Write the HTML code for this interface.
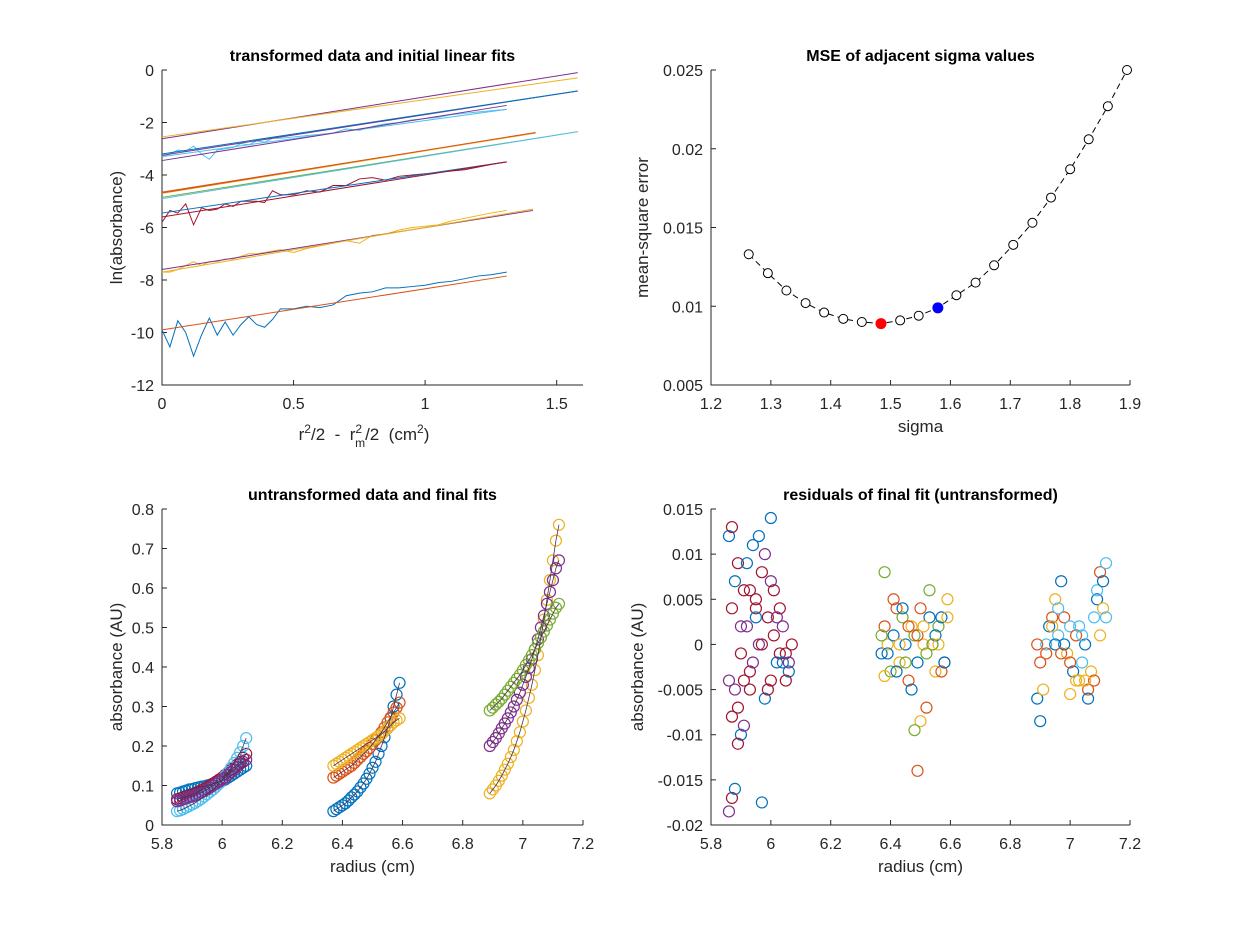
<!DOCTYPE html>
<html><head><meta charset="utf-8"><style>
body{margin:0;background:#fff;}
svg{display:block;font-family:"Liberation Sans",Arial,sans-serif;}
</style></head><body>
<svg id="fig" width="1249" height="926" viewBox="0 0 1249 926" xmlns="http://www.w3.org/2000/svg"></svg>
<script>
const C={b:'#0072BD',o:'#D95319',y:'#EDB120',p:'#7E2F8E',g:'#77AC30',c:'#4DBEEE',r:'#A2142F'};
// ---- panel 1 data: linear fits
const fitColors=['p','y','p','b','c','p','o','g','y','o','c','b','r','p','y','o'];
const fitX1=[1.58,1.58,1.58,1.58,1.31,1.31,1.42,1.58,1.42,1.42,1.58,1.31,1.31,1.41,1.41,1.31];
const fitY0=[-2.62,-2.55,-3.25,-3.2,-3.3,-3.45,-4.65,-4.85,-4.7,-4.68,-4.9,-5.45,-5.6,-7.6,-7.7,-9.9];
const fitY1=[-0.1,-0.3,-0.8,-0.8,-1.5,-1.35,-2.4,-2.35,-2.4,-2.38,-2.35,-3.5,-3.5,-5.35,-5.3,-7.85];
// noisy data traces
const nzX=[0,0.03,0.06,0.09,0.12,0.15,0.18,0.21,0.24,0.27,0.3,0.33,0.36,0.39,0.42,0.45,0.5,0.55,0.6,0.65,0.7,0.75,0.8,0.85,0.9,0.95,1.0,1.05,1.1,1.15,1.2,1.25,1.31];
const nzBlue=[-9.9,-10.55,-9.55,-10.0,-10.9,-10.1,-9.45,-10.1,-9.6,-10.1,-9.7,-9.4,-9.7,-9.8,-9.5,-9.1,-9.1,-9.0,-9.05,-8.95,-8.6,-8.5,-8.45,-8.3,-8.3,-8.25,-8.2,-8.1,-8.05,-7.95,-7.85,-7.8,-7.7];
const nzRed=[-5.8,-5.35,-5.45,-5.1,-5.9,-5.25,-5.35,-5.3,-5.1,-5.2,-5.0,-5.0,-5.0,-5.05,-4.6,-4.75,-4.75,-4.6,-4.65,-4.4,-4.4,-4.15,-4.1,-4.2,-4.05,-4.0,-3.95,-3.9,-3.85,-3.8,-3.7,-3.6,-3.5];
const nzYel=[-7.7,-7.7,-7.6,-7.45,-7.3,-7.45,-7.3,-7.3,-7.2,-7.2,-7.1,-7.0,-7.0,-6.95,-6.9,-6.85,-6.95,-6.8,-6.7,-6.6,-6.5,-6.6,-6.3,-6.25,-6.1,-6.0,-5.95,-5.9,-5.75,-5.65,-5.55,-5.45,-5.35];
const nzCyan=[-3.3,-3.2,-3.05,-3.1,-2.9,-3.2,-3.4,-3.05,-3.0,-2.95,-2.8,-2.85,-2.7,-2.75,-2.6,-2.6,-2.55,-2.5,-2.45,-2.4,-2.25,-2.3,-2.15,-2.05,-2.0,-1.9,-1.85,-1.8,-1.7,-1.65,-1.6,-1.55,-1.5];
// ---- panel 2 data
const sigma=[1.263,1.295,1.326,1.358,1.389,1.421,1.452,1.484,1.516,1.547,1.579,1.610,1.642,1.673,1.705,1.737,1.768,1.800,1.831,1.863,1.895];
const mse=[0.0133,0.0121,0.0110,0.0102,0.0096,0.0092,0.0090,0.0089,0.0091,0.0094,0.0099,0.0107,0.0115,0.0126,0.0139,0.0153,0.0169,0.0187,0.0206,0.0227,0.0250];
const minIdx=7, selIdx=10;
// ---- panel 3 data
const s3col=['b','r','c','p','b','o','y','y','p','g'];
const s3x=[
[5.85,5.86,5.87,5.88,5.89,5.9,5.91,5.92,5.93,5.94,5.95,5.96,5.97,5.98,5.99,6.0,6.01,6.02,6.03,6.04,6.05,6.06,6.07,6.08],
[5.85,5.86,5.87,5.88,5.89,5.9,5.91,5.92,5.93,5.94,5.95,5.96,5.97,5.98,5.99,6.0,6.01,6.02,6.03,6.04,6.05,6.06,6.07,6.08],
[5.85,5.86,5.87,5.88,5.89,5.9,5.91,5.92,5.93,5.94,5.95,5.96,5.97,5.98,5.99,6.0,6.01,6.02,6.03,6.04,6.05,6.06,6.07,6.08],
[5.85,5.86,5.87,5.88,5.89,5.9,5.91,5.92,5.93,5.94,5.95,5.96,5.97,5.98,5.99,6.0,6.01,6.02,6.03,6.04,6.05,6.06,6.07,6.08],
[6.37,6.38,6.39,6.4,6.41,6.42,6.43,6.44,6.45,6.46,6.47,6.48,6.49,6.5,6.51,6.52,6.53,6.54,6.55,6.56,6.57,6.58,6.59],
[6.37,6.38,6.39,6.4,6.41,6.42,6.43,6.44,6.45,6.46,6.47,6.48,6.49,6.5,6.51,6.52,6.53,6.54,6.55,6.56,6.57,6.58,6.59],
[6.37,6.38,6.39,6.4,6.41,6.42,6.43,6.44,6.45,6.46,6.47,6.48,6.49,6.5,6.51,6.52,6.53,6.54,6.55,6.56,6.57,6.58,6.59],
[6.89,6.9,6.91,6.92,6.93,6.94,6.95,6.96,6.97,6.98,6.99,7.0,7.01,7.02,7.03,7.04,7.05,7.06,7.07,7.08,7.09,7.1,7.11,7.12],
[6.89,6.9,6.91,6.92,6.93,6.94,6.95,6.96,6.97,6.98,6.99,7.0,7.01,7.02,7.03,7.04,7.05,7.06,7.07,7.08,7.09,7.1,7.11,7.12],
[6.89,6.9,6.91,6.92,6.93,6.94,6.95,6.96,6.97,6.98,6.99,7.0,7.01,7.02,7.03,7.04,7.05,7.06,7.07,7.08,7.09,7.1,7.11,7.12]];
const s3y=[
[0.08,0.082,0.085,0.087,0.09,0.091,0.093,0.095,0.097,0.098,0.1,0.102,0.105,0.107,0.11,0.112,0.115,0.12,0.125,0.13,0.135,0.14,0.145,0.15],
[0.065,0.067,0.07,0.072,0.075,0.077,0.08,0.084,0.088,0.091,0.095,0.1,0.105,0.11,0.115,0.12,0.127,0.133,0.14,0.146,0.153,0.16,0.17,0.18],
[0.035,0.037,0.04,0.044,0.048,0.052,0.056,0.061,0.066,0.072,0.078,0.084,0.09,0.097,0.105,0.114,0.124,0.134,0.145,0.157,0.17,0.184,0.2,0.22],
[0.06,0.062,0.065,0.067,0.07,0.072,0.075,0.078,0.082,0.086,0.09,0.095,0.1,0.105,0.11,0.115,0.12,0.127,0.134,0.14,0.147,0.155,0.16,0.165],
[0.035,0.04,0.045,0.05,0.055,0.062,0.07,0.077,0.085,0.095,0.105,0.117,0.13,0.145,0.16,0.18,0.2,0.222,0.245,0.27,0.3,0.33,0.36],
[0.12,0.125,0.13,0.135,0.14,0.145,0.15,0.157,0.165,0.172,0.18,0.187,0.195,0.205,0.215,0.225,0.235,0.247,0.26,0.272,0.285,0.297,0.31],
[0.15,0.155,0.16,0.165,0.17,0.175,0.18,0.185,0.19,0.195,0.2,0.205,0.21,0.215,0.22,0.225,0.23,0.237,0.245,0.252,0.26,0.265,0.27],
[0.08,0.09,0.1,0.112,0.125,0.14,0.155,0.172,0.19,0.212,0.235,0.262,0.29,0.322,0.355,0.392,0.43,0.475,0.52,0.57,0.62,0.67,0.72,0.76],
[0.2,0.21,0.22,0.232,0.245,0.257,0.27,0.285,0.3,0.317,0.335,0.355,0.375,0.397,0.42,0.445,0.47,0.5,0.53,0.56,0.59,0.62,0.65,0.67],
[0.29,0.297,0.305,0.312,0.32,0.33,0.34,0.35,0.36,0.37,0.38,0.392,0.405,0.417,0.43,0.445,0.46,0.475,0.49,0.505,0.52,0.535,0.55,0.56]];
// ---- panel 4 data
const r1x=[5.86,5.87,5.88,5.89,5.90,5.91,5.92,5.93,5.94,5.95,5.96,5.97,5.98,5.99,6.00,6.01,6.02,6.03,6.04,6.05,6.06,6.07,5.86,5.87,5.88,5.89,5.90,5.91,5.92,5.93,5.94,5.95,5.96,5.97,5.98,5.99,6.00,6.01,6.02,6.03,6.04,6.05,6.06,5.87,5.88,5.89,5.91,5.93,5.97,5.87,5.86,5.9,5.95,6.0];
const r1y=[0.012,0.004,-0.005,0.009,-0.01,0.006,0.002,-0.003,0.011,0.005,0.0,0.008,-0.006,0.003,0.007,0.001,-0.002,0.004,0.002,-0.001,-0.003,0.0,-0.004,0.013,0.007,-0.007,0.002,-0.004,0.009,0.006,-0.002,0.004,0.012,0.0,0.010,-0.005,0.014,0.006,0.003,-0.001,-0.002,-0.004,-0.002,-0.017,-0.016,-0.011,-0.009,-0.005,-0.0175,-0.008,-0.0185,-0.001,0.003,-0.004];
const r1c=['b','r','p','r'];
const r2x=[6.37,6.38,6.39,6.4,6.41,6.42,6.43,6.44,6.45,6.46,6.47,6.48,6.49,6.5,6.51,6.52,6.53,6.54,6.55,6.56,6.57,6.58,6.59,6.37,6.39,6.41,6.43,6.45,6.47,6.49,6.51,6.53,6.55,6.57,6.59,6.38,6.42,6.46,6.5,6.54,6.58,6.49,6.38,6.48,6.44,6.52,6.56];
const r2y=[-0.001,0.002,0.0,-0.003,0.001,0.004,-0.002,0.003,0.0,-0.004,0.002,0.001,-0.002,0.004,0.0,-0.001,0.003,0.0,-0.003,0.002,0.003,-0.002,0.005,0.001,-0.001,0.005,0.0,-0.002,-0.005,0.001,0.002,0.006,0.001,-0.003,0.003,0.008,-0.003,0.002,-0.0085,0.0,-0.002,-0.014,-0.0035,-0.0095,0.004,-0.007,0.0];
const r2c=['b','o','y','g'];
const r3x=[6.89,6.9,6.91,6.92,6.93,6.94,6.95,6.96,6.97,6.98,6.99,7.0,7.01,7.02,7.03,7.04,7.05,7.06,7.07,7.08,7.09,7.1,7.11,7.12,6.9,6.92,6.94,6.96,6.98,7.0,7.02,7.04,7.06,7.08,7.1,7.12,6.95,6.97,7.05,7.09,7.11,6.89,7.0,7.03];
const r3y=[-0.006,-0.002,-0.005,0.0,0.002,0.003,0.005,0.001,0.007,0.003,-0.001,0.002,-0.003,0.001,-0.004,-0.002,0.0,-0.005,-0.003,0.003,0.005,0.008,0.004,0.009,-0.0085,-0.001,0.002,0.004,0.0,-0.002,-0.004,0.001,-0.006,-0.004,0.001,0.003,0.0,-0.001,-0.004,0.006,0.007,0.0,-0.0055,0.002];
const r3c=['b','o','y','c'];

const svg=document.getElementById('fig');
const NS='http://www.w3.org/2000/svg';
function el(tag,attrs,parent){const e=document.createElementNS(NS,tag);for(const k in attrs)e.setAttribute(k,attrs[k]);(parent||svg).appendChild(e);return e;}
function scale(d0,d1,p0,p1){return v=>p0+(v-d0)*(p1-p0)/(d1-d0);}
function axes(name,L,R,T,B,xd,yd,xt,yt,xlab,ylab,ylx,title,xfmt,yfmt){
  const g=el('g',{});
  
  
  const X=scale(xd[0],xd[1],L,R),Y=scale(yd[0],yd[1],B,T);
  const ax=el('path',{d:`M${L},${T}V${B}H${R}`,stroke:'#262626','stroke-width':1,fill:'none'},g);
  
  
  xt.forEach(v=>{const x=X(v);el('line',{x1:x,x2:x,y1:B,y2:B-5,stroke:'#262626'},g);
    const t=el('text',{x:x,y:B+24,'text-anchor':'middle','font-size':16,fill:'#262626'},g);t.textContent=xfmt(v);
    });
  yt.forEach(v=>{const y=Y(v);el('line',{x1:L,x2:L+5,y1:y,y2:y,stroke:'#262626'},g);
    const t=el('text',{x:L-8,y:y+6,'text-anchor':'end','font-size':16,fill:'#262626'},g);t.textContent=yfmt(v);
    });
  const tt=el('text',{x:(L+R)/2,y:T-9,'text-anchor':'middle','font-size':16,'font-weight':'bold',fill:'#000'},g);tt.textContent=title;
  
  if(xlab){const t=el('text',{x:(L+R)/2,y:B+47,'text-anchor':'middle','font-size':17,fill:'#262626'},g);t.textContent=xlab;
    }
  const yl=el('text',{x:0,y:0,'text-anchor':'middle','font-size':17,fill:'#262626',transform:`translate(${ylx},${(T+B)/2}) rotate(-90)`},g);yl.textContent=ylab;
  
  return {X,Y,g};
}
const f1=v=>String(v), f3=v=>String(+v.toFixed(3));
// Panel 1
const p1=axes('transformed-panel',162,583,70,385,[0,1.6],[-12,0],[0,0.5,1,1.5],[-12,-10,-8,-6,-4,-2,0],null,'ln(absorbance)',122,'transformed data and initial linear fits',f1,f1);
const xl=el('text',{x:364,y:440,'text-anchor':'middle','font-size':17,fill:'#262626'});

xl.innerHTML='r<tspan dy="-7" font-size="12">2</tspan><tspan dy="7">/2  -  r</tspan><tspan dy="-7" font-size="12">2</tspan><tspan dx="-7" dy="14" font-size="12">m</tspan><tspan dy="-7">/2  (cm</tspan><tspan dy="-7" font-size="12">2</tspan><tspan dy="7">)</tspan>';
xl.setAttribute('xml:space','preserve');
xl.style.whiteSpace='pre';
function trace(xs,ys,col,P,name,w){const pts=xs.map((x,i)=>P.X(x)+','+P.Y(ys[i])).join(' ');
  const l=el('polyline',{points:pts,fill:'none',stroke:col,'stroke-width':w||1},P.g);
  }
trace(nzX,nzBlue,C.b,p1,'data-trace-blue');
trace(nzX,nzRed,C.r,p1,'data-trace-red');
trace(nzX,nzYel,C.y,p1,'data-trace-yellow');
trace(nzX,nzCyan,C.c,p1,'data-trace-cyan');
fitColors.forEach((c,i)=>{const l=el('line',{x1:p1.X(0),y1:p1.Y(fitY0[i]),x2:p1.X(fitX1[i]),y2:p1.Y(fitY1[i]),stroke:C[c],'stroke-width':1},p1.g);
  });
// Panel 2
const p2=axes('mse-panel',711,1130,70,385,[1.2,1.9],[0.005,0.025],[1.2,1.3,1.4,1.5,1.6,1.7,1.8,1.9],[0.005,0.01,0.015,0.02,0.025],'sigma','mean-square error',648,'MSE of adjacent sigma values',v=>v.toFixed(1),f3);
const ml=el('polyline',{points:sigma.map((s,i)=>p2.X(s)+','+p2.Y(mse[i])).join(' '),fill:'none',stroke:'#000','stroke-dasharray':'6,4'},p2.g);

sigma.forEach((s,i)=>{const fill=i===minIdx?'#f00':i===selIdx?'#00f':'#fff';const st=i===minIdx?'#f00':i===selIdx?'#00f':'#000';
  const c=el('circle',{cx:p2.X(s),cy:p2.Y(mse[i]),r:i===minIdx||i===selIdx?5:4.5,fill:fill,stroke:st},p2.g);
  });
// Panel 3
const p3=axes('untransformed-panel',162,583,509,825,[5.8,7.2],[0,0.8],[5.8,6,6.2,6.4,6.6,6.8,7,7.2],[0,0.1,0.2,0.3,0.4,0.5,0.6,0.7,0.8],'radius (cm)','absorbance (AU)',122,'untransformed data and final fits',f1,f1);
s3x.forEach((xs,k)=>{
  xs.forEach((x,i)=>{const c=el('circle',{cx:p3.X(x),cy:p3.Y(s3y[k][i]),r:5.5,fill:'none',stroke:C[s3col[k]],'stroke-width':1.2},p3.g);
    });
});
s3x.forEach((xs,k)=>trace(xs,s3y[k],'#4a3050',p3,'final-fit',0.8));
// Panel 4
const p4=axes('residuals-panel',711,1130,509,825,[5.8,7.2],[-0.02,0.015],[5.8,6,6.2,6.4,6.6,6.8,7,7.2],[-0.02,-0.015,-0.01,-0.005,0,0.005,0.01,0.015],'radius (cm)','absorbance (AU)',643,'residuals of final fit (untransformed)',f1,f3);
[[r1x,r1y,r1c],[r2x,r2y,r2c],[r3x,r3y,r3c]].forEach(([xs,ys,cs])=>{
  xs.forEach((x,i)=>{const c=el('circle',{cx:p4.X(x),cy:p4.Y(ys[i]),r:5.5,fill:'none',stroke:C[cs[i%cs.length]],'stroke-width':1.2},p4.g);
    });
});
</script>
</body></html>
